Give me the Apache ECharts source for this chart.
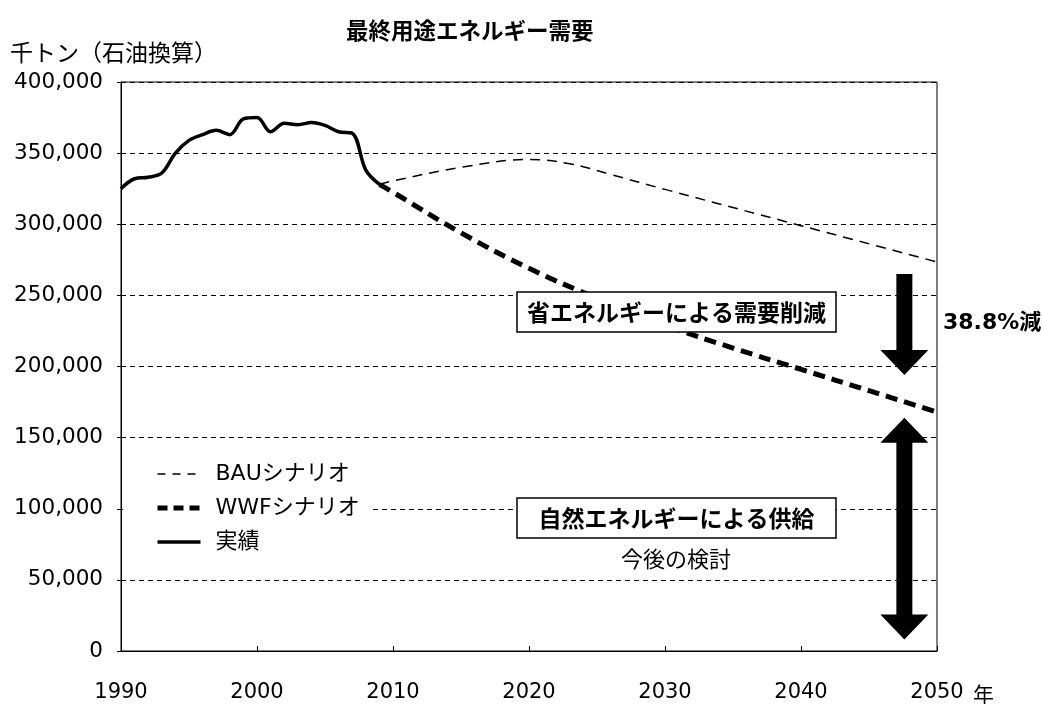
<!DOCTYPE html>
<html>
<head>
<meta charset="utf-8">
<script src="https://cdn.jsdelivr.net/npm/echarts@6/dist/echarts.min.js"></script>
<style>
  html, body { margin: 0; padding: 0; background: #fff; }
  #main { width: 1043px; height: 704px; }
</style>
</head>
<body>
<div id="main"></div>
<script>
// 実績
var actualYears = [1990, 1991, 1992, 1993, 1994, 1995, 1996, 1997, 1998, 1999,
                   2000, 2001, 2002, 2003, 2004, 2005, 2006, 2007, 2008, 2009];
var actualValues = [325000, 332000, 333000, 336000, 350000, 359000, 363000, 366000, 363000, 374000,
                    375000, 365000, 371000, 370000, 371500, 369500, 365000, 364000, 338000, 328000];
// BAUシナリオ
var bauYears = [2009, 2010, 2015, 2020, 2023, 2026, 2030, 2040, 2050];
var bauValues = [328000, 330500, 340000, 345500, 342500, 335000, 324500, 299000, 273500];
// WWFシナリオ
var wwfYears = [2009, 2010, 2015, 2020, 2025, 2030, 2035, 2040, 2045, 2050];
var wwfValues = [328000, 322500, 294000, 269000, 248000, 229000, 213000, 198000, 183000, 168000];

var yTicks = [0, 50000, 100000, 150000, 200000, 250000, 300000, 350000, 400000];
var xTicks = [1990, 2000, 2010, 2020, 2030, 2040, 2050];

// 矢印（年, 値）
var arrowYear = 2047.6;
var cutArrow = [265000, 194000];
var supplyArrow = [164000, 8000];

function pairs(xs, ys) {
    return xs.map(function (x, i) { return [x, ys[i]]; });
}

var FONT = '"DejaVu Sans", "Noto Sans CJK JP", sans-serif';
var JP = '"Noto Sans CJK JP", sans-serif';

var bauLine = { color: '#000', width: 1.5, type: [10, 7] };
var wwfLine = { color: '#000', width: 5, type: [12, 7] };
var actLine = { color: '#000', width: 3.5, type: 'solid' };

var myChart = echarts.init(document.getElementById('main'));
var option = {
    backgroundColor: '#fff',
    animation: false,
    textStyle: { fontFamily: FONT },
    title: [
        {
            text: '最終用途エネルギー需要',
            left: 346,
            top: 19,
            padding: 0,
            textStyle: { fontFamily: JP, fontSize: 22.5, fontWeight: 'bold', color: '#000' }
        },
        {
            text: '千トン（石油換算）',
            left: 10,
            top: 41,
            padding: 0,
            textStyle: { fontFamily: JP, fontSize: 23, fontWeight: 'normal', color: '#000' }
        }
    ],
    legend: {
        orient: 'vertical',
        left: 123,
        top: 455,
        padding: [8, 12, 8, 32],
        backgroundColor: '#fff',
        itemWidth: 43,
        itemHeight: 14,
        itemGap: 12,
        itemStyle: { color: 'transparent', borderColor: 'transparent', borderWidth: 0 },
        textStyle: { fontFamily: FONT, fontSize: 22, color: '#000', padding: [0, 0, 0, 10] },
        data: [
            { name: 'BAUシナリオ', lineStyle: { color: '#000', width: 1.5, type: [8, 7] } },
            { name: 'WWFシナリオ', lineStyle: { color: '#000', width: 5, type: [10, 6] } },
            { name: '実績', lineStyle: { color: '#000', width: 3.5, type: 'solid' } }
        ],
        z: 5
    },
    grid: {
        left: 121,
        right: 106,
        top: 82,
        bottom: 53,
        show: true,
        borderColor: '#000',
        borderWidth: 1
    },
    xAxis: {
        type: 'value',
        min: 1990,
        max: 2050,
        interval: 10,
        axisLine: { lineStyle: { color: '#000', width: 1 } },
        axisTick: { inside: true, length: 5, lineStyle: { color: '#000' } },
        axisLabel: {
            margin: 31,
            fontFamily: FONT,
            fontSize: 21,
            color: '#000',
            formatter: function (v) { return xTicks.indexOf(v) >= 0 ? String(v) : ''; }
        },
        splitLine: { show: false }
    },
    yAxis: {
        type: 'value',
        min: 0,
        max: 400000,
        interval: 50000,
        axisLine: { show: true, lineStyle: { color: '#000', width: 1 } },
        axisTick: { show: true, length: 4, lineStyle: { color: '#000' } },
        axisLabel: {
            margin: 18,
            fontFamily: FONT,
            fontSize: 21.5,
            color: '#000',
            formatter: function (v) { return yTicks.indexOf(v) >= 0 ? v.toLocaleString('en-US') : ''; }
        },
        splitLine: { show: true, lineStyle: { color: '#000', width: 1, type: [5, 4] } }
    },
    series: [
        {
            name: 'BAUシナリオ',
            type: 'line',
            data: pairs(bauYears, bauValues),
            smooth: 0.4,
            symbol: 'none',
            lineStyle: bauLine,
            itemStyle: { color: '#000' },
            z: 2
        },
        {
            name: 'WWFシナリオ',
            type: 'line',
            data: pairs(wwfYears, wwfValues),
            smooth: 0.4,
            symbol: 'none',
            lineStyle: wwfLine,
            itemStyle: { color: '#000' },
            z: 3
        },
        {
            name: '実績',
            type: 'line',
            data: pairs(actualYears, actualValues),
            smooth: 0.35,
            symbol: 'none',
            lineStyle: actLine,
            itemStyle: { color: '#000' },
            z: 4
        }
    ]
};
myChart.setOption(option);

// 注記と矢印
function px(year, value) {
    return myChart.convertToPixel({ gridIndex: 0 }, [year, value]);
}
var top1 = px(arrowYear, cutArrow[0]);
var tip1 = px(arrowYear, cutArrow[1]);
var top2 = px(arrowYear, supplyArrow[0]);
var tip2 = px(arrowYear, supplyArrow[1]);
var axisEnd = px(2050, 0);
var sw = 8, hw = 24, hl = 25;
var cx = top1[0];

var downArrow = [
    [cx - sw, top1[1]], [cx + sw, top1[1]], [cx + sw, tip1[1] - hl], [cx + hw, tip1[1] - hl],
    [cx, tip1[1]], [cx - hw, tip1[1] - hl], [cx - sw, tip1[1] - hl]
];
var bothArrow = [
    [cx, top2[1]], [cx + hw, top2[1] + hl], [cx + sw, top2[1] + hl], [cx + sw, tip2[1] - hl],
    [cx + hw, tip2[1] - hl], [cx, tip2[1]], [cx - hw, tip2[1] - hl], [cx - sw, tip2[1] - hl],
    [cx - sw, top2[1] + hl], [cx - hw, top2[1] + hl]
];

function labelBox(x, y, w, h, text) {
    return {
        type: 'group',
        children: [
            {
                type: 'rect', z: 20,
                shape: { x: x, y: y, width: w, height: h },
                style: { fill: '#fff', stroke: '#000', lineWidth: 1.5 }
            },
            {
                type: 'text', z: 21,
                style: {
                    x: x + w / 2, y: y + h / 2, text: text,
                    align: 'center', verticalAlign: 'middle',
                    font: 'bold 23px ' + JP, fill: '#000'
                }
            }
        ]
    };
}

myChart.setOption({
    graphic: [
        { type: 'polygon', z: 20, shape: { points: downArrow }, style: { fill: '#000' } },
        { type: 'polygon', z: 20, shape: { points: bothArrow }, style: { fill: '#000' } },
        labelBox(517, 292, 319, 40, '省エネルギーによる需要削減'),
        labelBox(517, 498, 319, 40, '自然エネルギーによる供給'),
        {
            type: 'text', z: 20,
            style: { x: 676, y: 559, text: '今後の検討', align: 'center', verticalAlign: 'middle',
                     font: '22px ' + JP, fill: '#000' }
        },
        {
            type: 'text', z: 20,
            style: { x: 943, y: 323, text: '38.8%減', align: 'left', verticalAlign: 'middle',
                     font: 'bold 22px ' + FONT, fill: '#000' }
        },
        {
            type: 'text', z: 20,
            style: { x: axisEnd[0] + 36, y: axisEnd[1] + 43, text: '年', align: 'left', verticalAlign: 'middle',
                     font: '21px ' + JP, fill: '#000' }
        }
    ]
});
</script>
</body>
</html>
